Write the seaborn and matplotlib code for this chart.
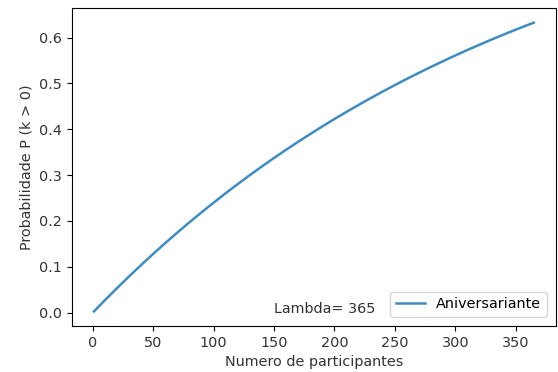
import matplotlib
matplotlib.use("Agg")
import matplotlib.pyplot as plt
import seaborn as sns
import pandas as pd

# Probabilidade de haver pelo menos um aniversariante
participantes = [1, 10, 20, 30, 40, 50, 60, 70, 80, 90, 100, 110, 120, 130,
                 140, 150, 160, 170, 180, 190, 200, 210, 220, 230, 240, 250,
                 260, 270, 280, 290, 300, 310, 320, 330, 340, 350, 360, 365]
probabilidade = [0.0027, 0.0271, 0.0534, 0.0790, 0.1039, 0.1282, 0.1518,
                 0.1747, 0.1971, 0.2188, 0.2399, 0.2605, 0.2805, 0.3000,
                 0.3189, 0.3374, 0.3553, 0.3727, 0.3897, 0.4062, 0.4223,
                 0.4379, 0.4531, 0.4679, 0.4823, 0.4963, 0.5100, 0.5232,
                 0.5361, 0.5487, 0.5609, 0.5728, 0.5843, 0.5956, 0.6065,
                 0.6172, 0.6275, 0.6326]
lambda_val = 365

df = pd.DataFrame({"n": participantes, "p": probabilidade})

fs = 10.4
fig, ax = plt.subplots(figsize=(5.58, 3.72), dpi=100)
fig.subplots_adjust(left=0.129, right=0.996, top=0.978, bottom=0.124)

sns.lineplot(data=df, x="n", y="p", ax=ax, color="#1f77b4", alpha=0.85,
             linewidth=1.8, label="Aniversariante")

ax.text(150, 0, f"Lambda= {lambda_val}", fontsize=fs, color="#333333")
ax.legend(loc="lower right", fontsize=fs, borderaxespad=0.6)
ax.set_xlabel("Numero de participantes", fontsize=fs, color="#333333")
ax.set_ylabel("Probabilidade P (k > 0)", fontsize=fs, color="#333333")
ax.tick_params(labelsize=fs, labelcolor="#333333")

plt.savefig("out.png")
